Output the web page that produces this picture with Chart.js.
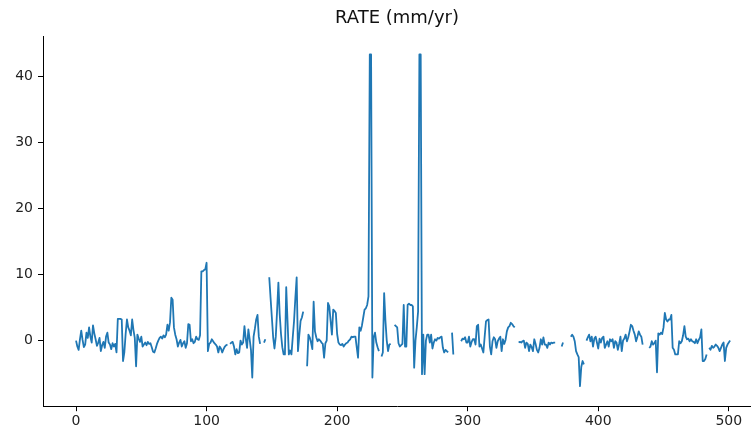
<!DOCTYPE html>
<html>
<head>
<meta charset="utf-8">
<script src="https://cdn.jsdelivr.net/npm/chart.js@4.4.1/dist/chart.umd.min.js"></script>
<style>
  html, body { margin: 0; padding: 0; background: #fff; }
  #wrap { width: 751px; height: 437px; }
</style>
</head>
<body>
<div id="wrap"><canvas id="chart" width="751" height="437"></canvas></div>
<script>
// RATE (mm/yr) per record index, null = no value (gap in the line)
const rate = [
  0.0, -0.9, -1.4, 0.2, 1.5, 0.1, -1.0, -0.6, 1.2, 0.4,
  2.0, 0.6, -0.3, 2.3, 1.1, 0.2, -0.8, -0.3, 0.4, -1.6,
  -0.7, -0.2, -1.1, 0.6, 1.2, -0.3, -0.6, -1.3, -0.4, -0.9,
  -0.5, -1.8, 3.3, 3.3, 3.3, 3.2, -3.1, -1.8, 1.0, 3.2,
  2.0, 1.5, 0.8, 3.2, 1.6, 0.4, -3.9, 0.9, 0.3, -0.2,
  0.6, -0.9, -0.6, -0.3, -0.7, -0.2, -0.5, -0.4, -1.0, -1.7,
  -1.8, -1.2, -0.5, 0.0, 0.4, 0.6, 0.3, 0.8, 0.5, 0.9,
  2.4, 1.5, 2.8, 6.5, 6.2, 2.0, 0.9, 0.2, -0.9, -0.3,
  0.1, -0.9, -0.4, -0.1, -1.1, -0.4, 2.5, 2.4, -0.1, 0.2,
  -0.4, -0.2, 0.6, 0.2, 0.1, 0.8, 10.5, 10.5, 10.7, 10.8,
  11.8, -1.6, -0.5, -0.3, 0.2, -0.1, -0.4, -0.6, -0.9, -1.8,
  -0.9, -1.2, -1.8, -1.3, -0.9, -0.7, -0.6, null, -0.5, -0.3,
  -0.2, -0.9, -2.1, -1.3, -1.9, -1.8, 0.0, -0.6, -0.3, 2.2,
  0.3, -1.1, 1.7, 0.2, -1.4, -5.6, 0.6, 1.8, 3.2, 3.9,
  0.6, -0.5, null, null, -0.3, 0.2, null, null, 9.6, 6.5,
  3.5, 0.5, -1.2, 0.6, 4.5, 8.8, 4.0, 1.0, -1.0, -2.1,
  -2.1, 8.1, 3.0, -2.1, -1.5, -2.1, 0.5, 3.0, 6.5, 9.6,
  -1.6, 0.8, 3.0, 3.5, 4.4, null, null, -3.9, 0.9, 0.5,
  -0.3, -1.3, 5.9, 1.4, 0.5, -0.1, 0.2, 0.0, -0.3, -0.5,
  -2.6, -0.4, 0.0, 5.7, 5.2, 3.0, 0.9, 4.7, 4.5, 4.2,
  1.0, -0.3, -0.6, -0.7, -0.5, -0.9, -0.6, -0.4, -0.3, 0.0,
  0.2, 0.6, 0.5, 0.6, 0.6, -1.0, -2.6, 2.0, 1.5, 2.3,
  3.5, 4.7, 4.9, 5.4, 6.7, 43.4, 43.4, -5.6, 0.5, 1.2,
  -0.3, -1.0, -1.6, null, -2.4, -1.8, 7.2, 3.0, 0.0, -1.6,
  -0.6, -0.5, null, null, 2.4, 2.2, 2.0, -0.4, -0.9, -0.7,
  -0.5, 5.4, -0.9, -0.9, 5.4, 5.6, 5.4, 5.4, 5.2, -4.1,
  0.0, 2.0, 4.4, 43.4, 43.4, -5.1, 0.9, -5.1, 0.0, 0.9,
  0.9, -0.3, 0.9, -1.2, -0.3, 0.2, 0.0, 0.4, 0.3, 0.5,
  0.6, -1.1, -1.8, -1.4, -1.6, -1.8, null, null, 1.2, -2.1,
  null, null, null, null, null, -0.1, 0.3, 0.2, 0.5, -0.3,
  -0.3, 0.6, -0.9, -0.2, 0.2, 0.2, -0.6, 2.2, 2.4, -0.9,
  -0.6, -1.2, -1.8, 0.6, 2.9, 3.1, 3.2, -0.9, -2.1, -0.1,
  0.5, 0.2, -1.1, -0.1, 0.3, 0.6, -1.6, 0.2, -0.5, 0.1,
  1.4, 2.0, 2.2, 2.7, 2.5, 2.2, 2.0, null, null, -0.3,
  -0.2, -0.3, -0.1, 0.0, -1.1, -0.3, -0.5, -1.6, -0.6, -1.0,
  -1.6, 0.2, -0.5, -1.4, -1.8, -1.1, 0.2, -0.6, 0.5, -0.6,
  -0.6, -1.1, -0.3, -0.6, -0.3, -0.4, -0.3, -0.3, null, null,
  null, null, -0.9, -0.3, null, null, null, null, null, 0.6,
  0.9, 0.6, -0.1, -1.6, -2.1, -2.5, -6.9, -4.0, -3.1, -3.6,
  null, 0.0, 0.5, 0.9, -0.1, 0.6, -0.9, 0.3, 0.6, -0.3,
  -1.2, 0.3, -0.3, 0.4, 0.6, -1.1, -0.6, -0.1, -0.9, 0.2,
  -0.1, 0.2, -1.1, -0.1, -0.3, -1.4, -0.5, 0.6, -1.6, 0.0,
  0.3, 0.9, -0.1, 0.5, 1.4, 2.4, 2.2, 1.5, 0.9, -0.1,
  0.6, 1.4, 0.9, 0.6, -0.6, null, null, null, null, -1.1,
  -0.9, -0.1, -0.6, -0.4, 0.0, -4.8, 1.1, 0.9, 1.2, 1.0,
  2.0, 4.2, 3.2, 2.9, 3.2, 3.2, 3.9, -1.1, -1.4, -2.1,
  -2.1, -2.1, -0.1, -0.4, -0.1, 0.8, 2.2, 0.6, 0.2, 0.3,
  -0.1, 0.2, -0.1, -0.2, -0.4, 0.2, -0.4, 0.1, 0.5, 1.7,
  -3.1, -3.1, -2.8, -2.1, null, -1.1, -1.4, -0.8, -1.1, -0.9,
  -0.6, -0.8, -1.1, -1.6, -1.1, -0.6, -0.3, -3.1, -1.1, -0.6,
  -0.3, 0.0
];

const xTicks = [0, 100, 200, 300, 400, 500];
const yTicks = [0, 10, 20, 30, 40];

const points = rate.map((v, i) => ({x: i, y: v}));

const tickFont = {family: 'DejaVu Sans', size: 14};

new Chart(document.getElementById('chart').getContext('2d'), {
  type: 'line',
  data: {
    datasets: [{
      label: 'RATE (mm/yr)',
      data: points,
      borderColor: '#1f77b4',
      borderWidth: 1.8,
      pointRadius: 0,
      tension: 0,
      spanGaps: false,
      borderJoinStyle: 'round'
    }]
  },
  options: {
    responsive: false,
    animation: false,
    devicePixelRatio: 1,
    layout: {padding: {left: 0, right: 0, top: 0, bottom: 5}},
    plugins: {
      legend: {display: false},
      tooltip: {enabled: false},
      title: {
        display: true,
        text: 'RATE (mm/yr)',
        fullSize: false,
        color: '#111',
        font: {family: 'DejaVu Sans', size: 18, weight: 'normal'},
        padding: {top: 8, bottom: 7}
      }
    },
    scales: {
      x: {
        type: 'linear',
        min: -25.3,
        max: 517,
        afterBuildTicks: s => { s.ticks = xTicks.map(v => ({value: v})); },
        ticks: {color: '#222', font: tickFont, padding: 2, maxRotation: 0},
        grid: {drawOnChartArea: false, drawTicks: true, tickLength: 5, color: '#000'},
        border: {display: true, color: '#000', width: 1}
      },
      y: {
        min: -9.95,
        max: 46.1,
        afterBuildTicks: s => { s.ticks = yTicks.map(v => ({value: v})); },
        afterFit: s => { s.width = 43; },
        ticks: {color: '#222', font: tickFont, padding: 5},
        grid: {drawOnChartArea: false, drawTicks: true, tickLength: 5, color: '#000'},
        border: {display: true, color: '#000', width: 1}
      }
    }
  }
});
</script>
</body>
</html>
